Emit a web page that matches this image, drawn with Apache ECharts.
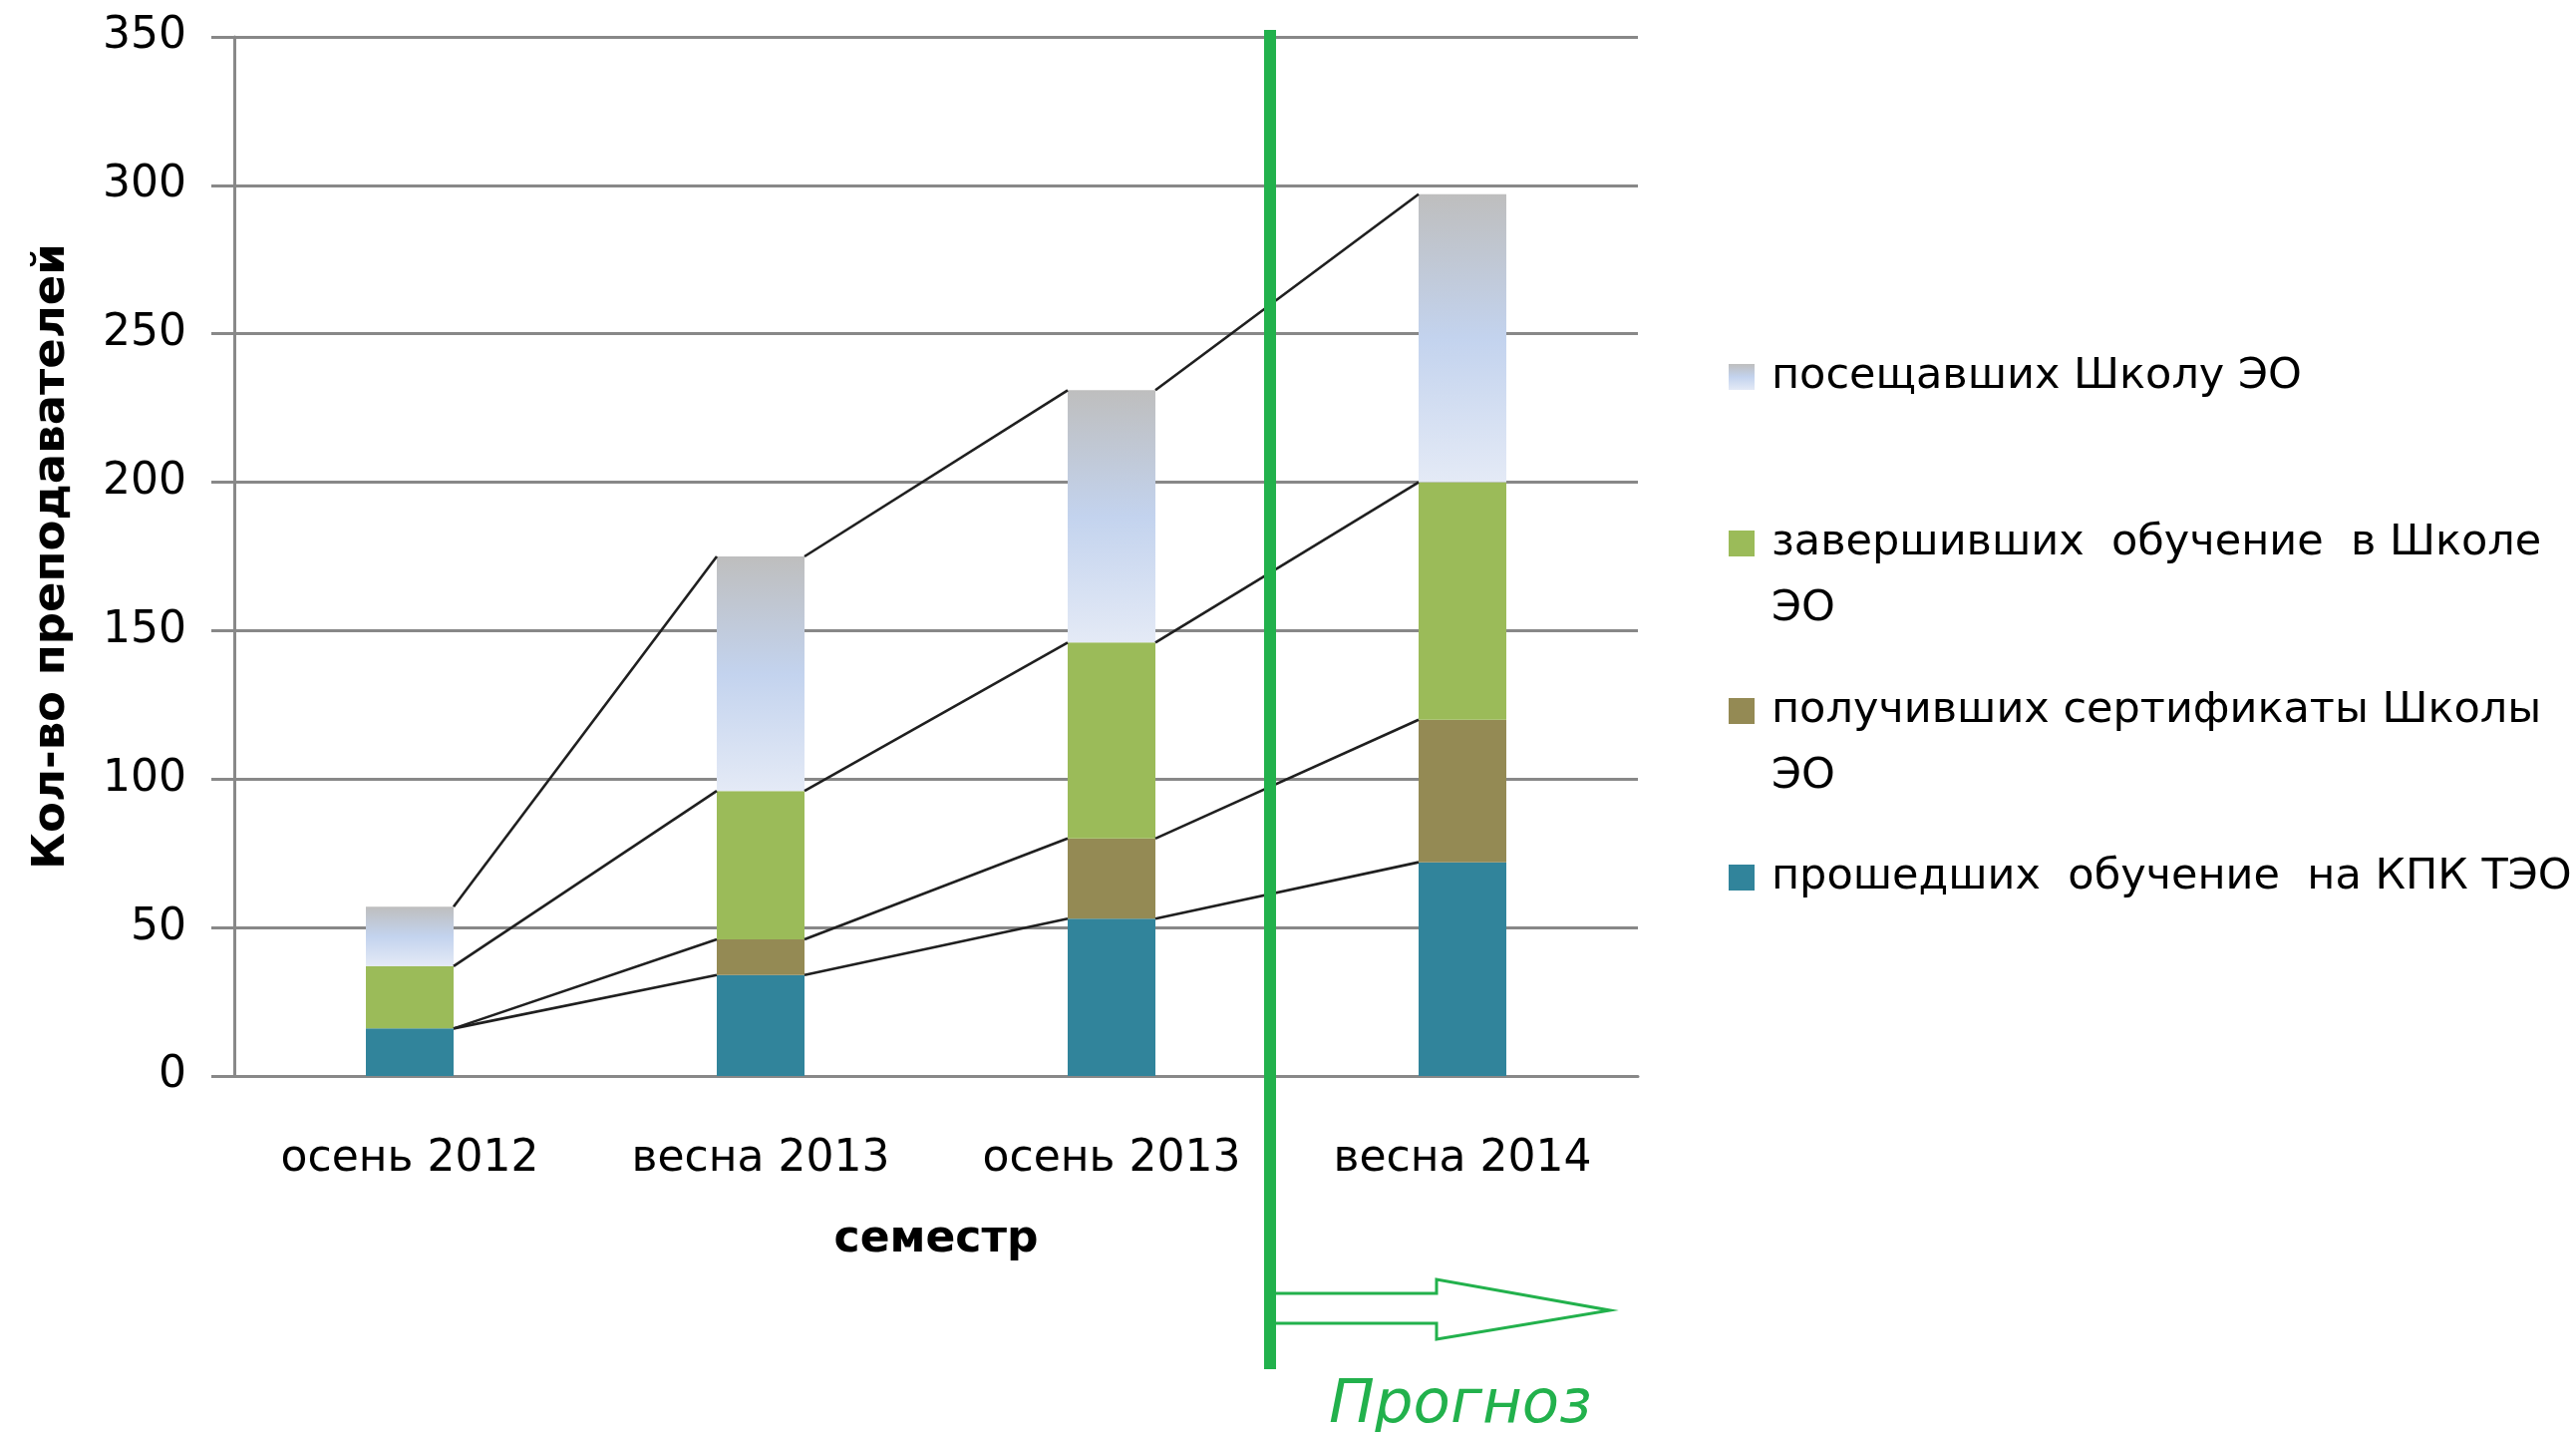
<!DOCTYPE html>
<html>
<head>
<meta charset="utf-8">
<script src="https://cdn.jsdelivr.net/npm/echarts@6/dist/echarts.min.js"></script>
<style>
  html, body { margin: 0; padding: 0; background: #fff; }
  #chart { width: 2584px; height: 1436px; }
</style>
</head>
<body>
<div id="chart"></div>
<script>
  // семестры
  const categories = ['осень 2012', 'весна 2013', 'осень 2013', 'весна 2014']
  // значения по сегментам (снизу вверх)
  const kpkTeo = [16, 34, 53, 72]
  const certificates = [0, 12, 27, 48]
  const completed = [21, 50, 66, 80]
  const attended = [20, 79, 85, 97]
  const yTicks = { min: 0, max: 350, interval: 50 }

  const names = {
    attended: 'посещавших Школу ЭО',
    completed: 'завершивших  обучение  в Школе\nЭО',
    certificates: 'получивших сертификаты Школы\nЭО',
    kpkTeo: 'прошедших  обучение  на КПК ТЭО'
  }

  const FONT = 'DejaVu Sans'
  const GREEN_MARK = '#22B14C'
  const AXIS_GRAY = '#888888'
  const barRatio = 0.25

  // накопленные суммы для линий рядов
  const layers = [kpkTeo, certificates, completed, attended]
  const cumulative = []
  let running = categories.map(() => 0)
  layers.forEach(layer => {
    running = running.map((v, i) => v + layer[i])
    cumulative.push(running.slice())
  })
  const connectors = []
  cumulative.forEach(level => {
    for (let i = 0; i < level.length - 1; i++) {
      connectors.push([i, level[i], level[i + 1]])
    }
  })

  const lightGradient = {
    type: 'linear', x: 0, y: 0, x2: 0, y2: 1,
    colorStops: [
      { offset: 0, color: '#BEBEBE' },
      { offset: 0.5, color: '#C3D3EE' },
      { offset: 1, color: '#E4EAF6' }
    ]
  }

  function barSeries(name, data, color) {
    return {
      name: name,
      type: 'bar',
      stack: 'total',
      barWidth: (barRatio * 100) + '%',
      data: data,
      itemStyle: { color: color }
    }
  }

  function legendAt(name, top) {
    return {
      data: [name],
      left: 1734,
      top: top,
      padding: 0,
      orient: 'vertical',
      icon: 'rect',
      itemWidth: 26,
      itemHeight: 26,
      selectedMode: false,
      // пустая строка сверху: маркер стоит напротив первой строки
      formatter: n => n.indexOf('\n') >= 0 ? '\n' + n : n,
      textStyle: {
        fontFamily: FONT,
        fontSize: 43,
        lineHeight: 66,
        color: '#000',
        padding: [0, 0, 0, 12]
      }
    }
  }

  const chart = echarts.init(document.getElementById('chart'))
  chart.setOption({
    animation: false,
    backgroundColor: '#fff',
    textStyle: { fontFamily: FONT },
    grid: { left: 235, right: 941, top: 37, bottom: 357 },
    legend: [
      legendAt(names.attended, 345),
      legendAt(names.completed, 446),
      legendAt(names.certificates, 614),
      legendAt(names.kpkTeo, 847)
    ],
    xAxis: {
      type: 'category',
      data: categories,
      name: 'семестр',
      nameLocation: 'middle',
      nameGap: 143,
      nameTextStyle: { fontFamily: FONT, fontSize: 44, fontWeight: 'bold', color: '#000' },
      axisLine: { lineStyle: { color: AXIS_GRAY, width: 3 } },
      axisTick: { show: false },
      axisLabel: { fontFamily: FONT, fontSize: 44, color: '#000', margin: 62 }
    },
    yAxis: {
      type: 'value',
      min: yTicks.min,
      max: yTicks.max,
      interval: yTicks.interval,
      name: 'Кол-во преподавателей',
      nameLocation: 'middle',
      nameGap: 160,
      nameTextStyle: { fontFamily: FONT, fontSize: 45, fontWeight: 'bold', color: '#000' },
      axisLine: { show: true, lineStyle: { color: AXIS_GRAY, width: 3 } },
      axisTick: { show: true, length: 23, lineStyle: { color: AXIS_GRAY, width: 3 } },
      splitLine: { lineStyle: { color: AXIS_GRAY, width: 3 } },
      axisLabel: { fontFamily: FONT, fontSize: 44, color: '#000', margin: 48 }
    },
    series: [
      barSeries(names.kpkTeo, kpkTeo, '#31849B'),
      barSeries(names.certificates, certificates, '#948A54'),
      barSeries(names.completed, completed, '#9BBB59'),
      barSeries(names.attended, attended, lightGradient),
      {
        // линии рядов между столбцами
        type: 'custom',
        data: connectors,
        encode: { x: 0, y: 1 },
        silent: true,
        z: 3,
        renderItem: function(params, api) {
          const i = api.value(0)
          const half = api.size([1, 0])[0] * barRatio / 2
          const a = api.coord([i, api.value(1)])
          const b = api.coord([i + 1, api.value(2)])
          return {
            type: 'line',
            shape: { x1: a[0] + half, y1: a[1], x2: b[0] - half, y2: b[1] },
            style: { stroke: '#1f1f1f', lineWidth: 2.6 }
          }
        }
      }
    ],
    graphic: [
      {
        type: 'rect',
        z: 10,
        shape: { x: 1268, y: 30, width: 12, height: 1343 },
        style: { fill: GREEN_MARK }
      },
      {
        type: 'polyline',
        z: 10,
        shape: {
          points: [[1280, 1297], [1441, 1297], [1441, 1283], [1615, 1314],
            [1441, 1343], [1441, 1327], [1280, 1327]]
        },
        style: { stroke: GREEN_MARK, lineWidth: 3, fill: null }
      },
      {
        type: 'text',
        z: 10,
        x: 1333,
        y: 1410,
        style: {
          text: 'Прогноз',
          font: 'italic 61px "DejaVu Sans"',
          fill: GREEN_MARK,
          verticalAlign: 'middle'
        }
      }
    ]
  })
</script>
</body>
</html>
